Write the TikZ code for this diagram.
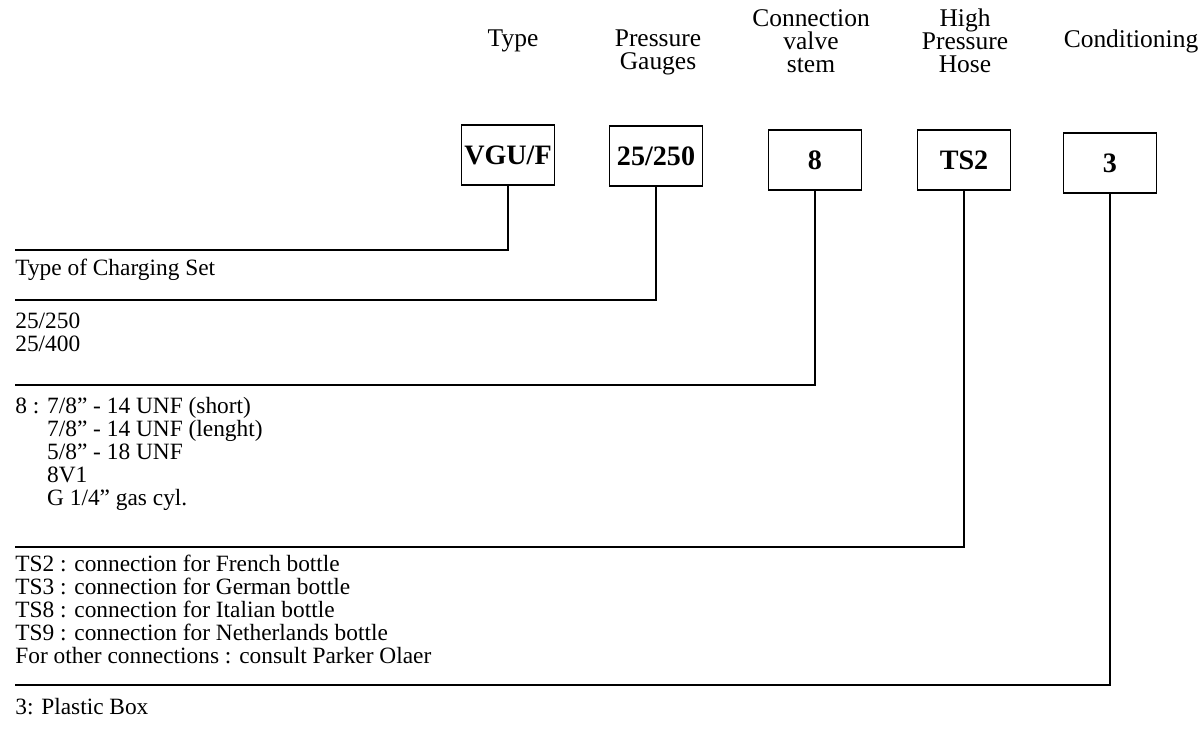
\documentclass[tikz,border=0pt]{standalone}
\usepackage{fontspec}
\setmainfont{Liberation Serif}
\usepackage{tikz}

\begin{document}
\begin{tikzpicture}[x=0.02cm,y=-0.02cm,
    codebox/.style={draw,line width=0.8pt,minimum width=1.86cm,minimum height=1.2cm,inner sep=0pt,font=\fontsize{16}{18}\selectfont\bfseries},
    head/.style={align=center,inner sep=0pt,font=\fontsize{14.5}{13}\selectfont},
    desc/.style={anchor=north west,align=left,inner sep=0pt,font=\fontsize{13.3}{13.1}\selectfont},
    stem/.style={line width=1.1pt}]
    \useasboundingbox (0,0) rectangle (1203,731);

    % code boxes
    \node[codebox] (vgu) at (508,155) {VGU/F};
    \node[codebox] (gauge) at (656,156) {25/250};
    \node[codebox] (valve) at (815,160) {8};
    \node[codebox] (hose) at (964,160) {TS2};
    \node[codebox] (cond) at (1110,163) {3};

    % headings
    \node[head] (hType) at (513,41) {Type};
    \node[head] (hGauge) at (658,52) {Pressure\\Gauges};
    \node[head] (hValve) at (811,41) {Connection\\valve\\stem};
    \node[head] (hHose) at (965,41) {High\\Pressure\\Hose};
    \node[head] (hCond) at (1131,41) {Conditioning};

    % left ends of the lines
    \coordinate (e1) at (15,250);
    \coordinate (e2) at (15,300);
    \coordinate (e3) at (15,385);
    \coordinate (e4) at (15,547);
    \coordinate (e5) at (15,685);

    \draw[stem] (vgu.south) |- (e1);
    \draw[stem] (gauge.south) |- (e2);
    \draw[stem] (valve.south) |- (e3);
    \draw[stem] (hose.south) |- (e4);
    \draw[stem] (cond.south) |- (e5);

    % descriptions
    \node[desc] (dType) at (15,259) {Type of Charging Set};
    \node[desc] (dGauge) at (15,313) {25/250\\25/400};
    \node[desc] (dValve) at (15,397) {8 : 7/8” - 14 UNF (short)\\
        \phantom{8 : }7/8” - 14 UNF (lenght)\\
        \phantom{8 : }5/8” - 18 UNF\\
        \phantom{8 : }8V1\\
        \phantom{8 : }G 1/4” gas cyl.};
    \node[desc] (dHose) at (15,555) {TS2 : connection for French bottle\\
        TS3 : connection for German bottle\\
        TS8 : connection for Italian bottle\\
        TS9 : connection for Netherlands bottle\\
        For other connections : consult Parker Olaer};
    \node[desc] (dCond) at (15,698) {3: Plastic Box};
\end{tikzpicture}
\end{document}
